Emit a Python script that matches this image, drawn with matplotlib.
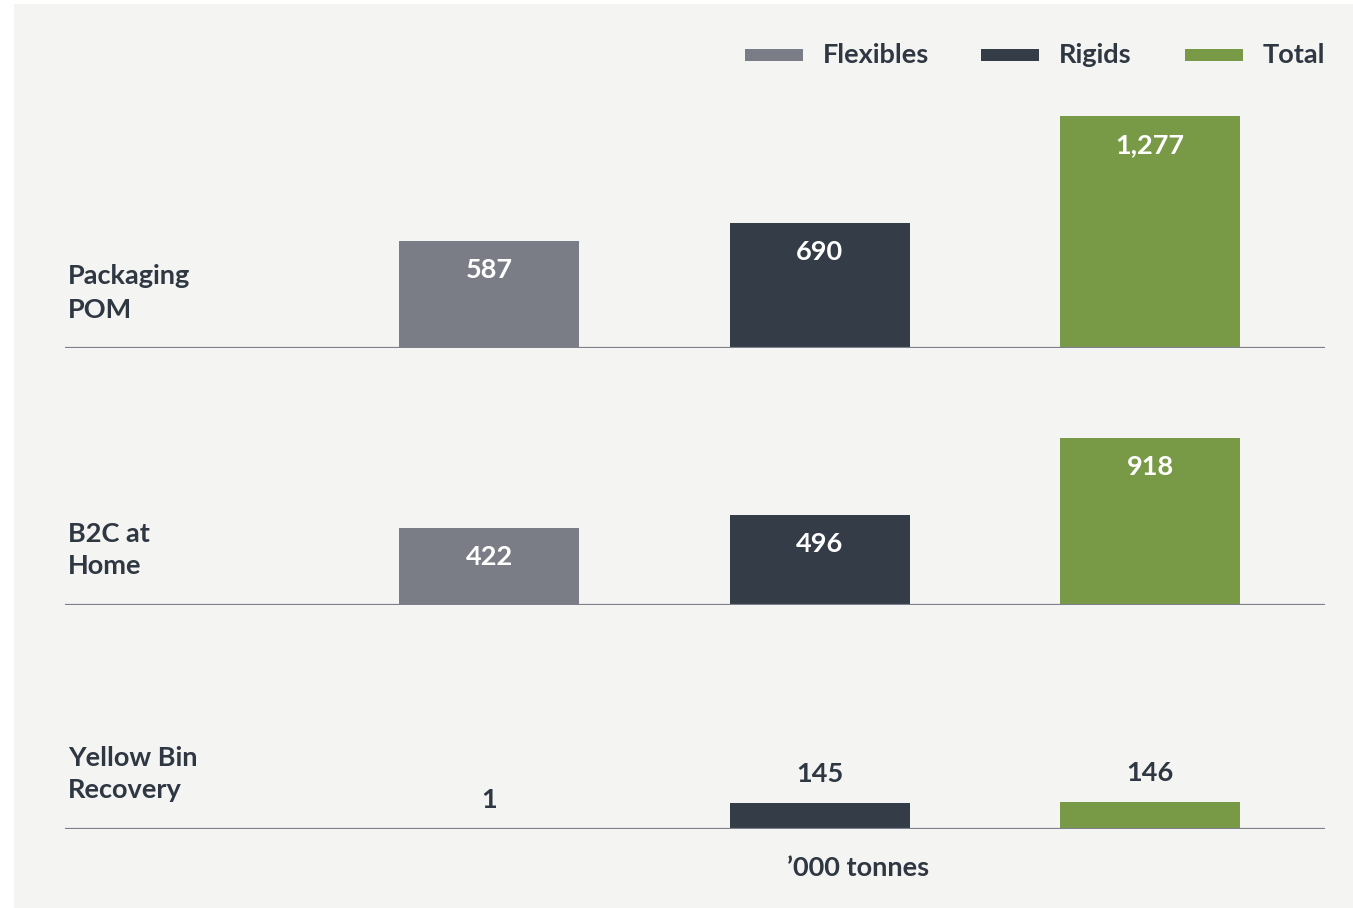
import numpy as np
import matplotlib as mpl
import matplotlib.pyplot as plt
from matplotlib.patches import Rectangle

mpl.rcParams.update({"font.family": ["Lato", "DejaVu Sans"]})

# Data ('000 tonnes)
categories = ["Packaging\nPOM", "B2C at\nHome", "Yellow Bin\nRecovery"]
series = ["Flexibles", "Rigids", "Total"]
flexibles = [587, 422, 1]
rigids = [690, 496, 145]
total = [1277, 918, 146]
unit_label = "\u2019000 tonnes"

COLORS = ["#7b7d86", "#333c47", "#789a47"]
BG = "#f4f4f2"
TXT = "#2e3742"
LINE = "#7e8089"
FS = 19.5

W, H = 1353, 908
fig = plt.figure(figsize=(W / 100, H / 100), dpi=100)
fig.patch.set_facecolor("white")
fig.add_artist(Rectangle((14 / W, 0), 1 - 14 / W, 1 - 4 / H, transform=fig.transFigure,
                         facecolor=BG, edgecolor="none", zorder=0))

values = np.array([flexibles, rigids, total]).T  # rows = category
baselines = [348, 605, 829]   # pixel rows of the baselines
ax_h = 240
ymax = 1320
x = np.arange(len(series))
width = 0.545

for cat, vals, base in zip(categories, values, baselines):
    ax = fig.add_axes([65 / W, (H - base) / H, 1260 / W, ax_h / H])
    ax.set_facecolor("none")
    ax.bar(x, vals, width=width, color=COLORS, zorder=2)
    ax.set_xlim(-1.285, 2.53)
    ax.set_ylim(0, ymax)
    ax.axhline(0, color=LINE, lw=1.6, zorder=3)
    for s in ax.spines.values():
        s.set_visible(False)
    ax.set_xticks([])
    ax.set_yticks([])

    px = ymax / ax_h  # data units per pixel
    for xi, v in zip(x, vals):
        if v > 250:
            ax.text(xi, v - 29 * px, f"{v:,}", ha="center", va="center",
                    color="white", fontsize=FS, fontweight="bold")
        else:
            ax.text(xi, v + 29 * px, f"{v:,}", ha="center", va="center",
                    color=TXT, fontsize=FS, fontweight="bold")

    ax.text(-1.277, 55 * px, cat, ha="left", va="center", color=TXT,
            fontsize=FS, fontweight="bold", linespacing=1.45)

# Legend row
leg_y = 1 - 55 / H
for name, col, px0 in zip(series, COLORS, [745, 981, 1185]):
    fig.add_artist(Rectangle((px0 / W, leg_y - 6 / H), 58 / W, 12 / H,
                             transform=fig.transFigure, facecolor=col,
                             edgecolor="none"))
    fig.text((px0 + 78) / W, leg_y, name, ha="left", va="center",
             color=TXT, fontsize=FS, fontweight="bold")

fig.text(858 / W, 1 - 868 / H, unit_label, ha="center", va="center",
         color=TXT, fontsize=FS, fontweight="bold")

fig.savefig("out.png", dpi=100, facecolor=fig.get_facecolor())
